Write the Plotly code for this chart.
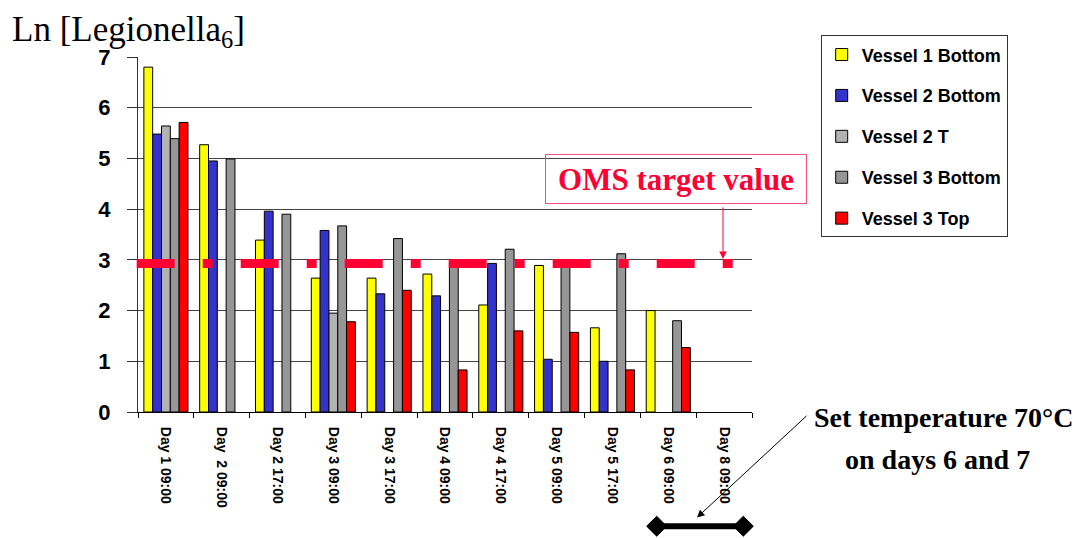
import plotly.graph_objects as go

categories = ["Day 1 09:00", "Day  2 09:00", "Day 2 17:00", "Day 3 09:00", "Day 3 17:00",
              "Day 4 09:00", "Day 4 17:00", "Day 5 09:00", "Day 5 17:00", "Day 6 09:00", "Day 8 09:00"]
vessel1_bottom = [6.80, 5.27, 3.39, 2.64, 2.64, 2.72, 2.11, 2.89, 1.66, 2.00, None]
vessel2_bottom = [5.48, 4.95, 3.96, 3.58, 2.33, 2.29, 2.93, 1.04, 1.00, None, None]
vessel2_t = [5.64, None, None, 1.95, None, None, None, None, None, None, None]
vessel3_bottom = [5.39, 4.99, 3.90, 3.67, 3.42, 2.95, 3.21, 2.90, 3.12, 1.80, None]
vessel3_top = [5.71, None, None, 1.78, 2.40, 0.83, 1.60, 1.57, 0.83, 1.27, None]
oms_target = 2.93

series = [
    ("Vessel 1 Bottom", vessel1_bottom, "#FFFF00"),
    ("Vessel 2 Bottom", vessel2_bottom, "#3333CC"),
    ("Vessel 2 T", vessel2_t, "#B2B2B2"),
    ("Vessel 3 Bottom", vessel3_bottom, "#969696"),
    ("Vessel 3 Top", vessel3_top, "#FF0000"),
]

# plot area in page pixels (page has an 8px body margin)
OFF = 8
L, R, T, B = 138, 752, 56.7, 412.3
W, H = 1080 - OFF, 538 - OFF
def px(x):
    return (x - L) / (R - L)
def py(y):
    return (B - y) / (B - T)

SANS = "Liberation Sans, Arial, sans-serif"
SERIF = "Liberation Serif, Times New Roman, serif"
CRIMSON = "#FF0033"

fig = go.Figure()
for i, (name, vals, col) in enumerate(series):
    fig.add_trace(go.Bar(x=categories, y=vals, name=name, legendgroup=str(i),
                         marker=dict(color=col, line=dict(color="#000000", width=1))))

fig.update_layout(
    width=W, height=H,
    margin=dict(l=L - OFF, r=W - (R - OFF), t=T - OFF, b=H - (B - OFF), pad=0),
    paper_bgcolor="white", plot_bgcolor="white",
    barmode="group", bargap=0.21, bargroupgap=0,
    font=dict(family=SANS, color="black"),
    showlegend=True,
    legend=dict(x=px(820.7), y=py(35), xanchor="left", yanchor="top",
                bgcolor="white", bordercolor="#333333", borderwidth=1,
                font=dict(family=SANS, size=18, weight="bold", color="black"),
                tracegroupgap=14.5, traceorder="grouped",
                entrywidth=160, entrywidthmode="pixels"),
    xaxis=dict(type="category", tickson="boundaries", ticks="outside", ticklen=5,
               tickcolor="black", showline=True, linecolor="black", linewidth=1,
               tickangle=90, tickfont=dict(family=SANS, size=14, weight="bold"),
               ticklabelstandoff=11, showgrid=False),
    yaxis=dict(range=[0, 7], dtick=1, ticks="outside", ticklen=10, tickcolor="#333333",
               showline=True, linecolor="#333333", linewidth=1,
               showgrid=True, gridcolor="#444444", gridwidth=1, zeroline=False,
               tickfont=dict(family=SANS, size=22, weight="bold"),
               ticklabelstandoff=12),
)

# OMS target dashed line
fig.add_shape(type="line", xref="paper", yref="y", x0=px(136.7), x1=px(733), y0=oms_target, y1=oms_target,
              line=dict(color=CRIMSON, width=9, dash="38px,28px,10px,28px"), layer="above")

# OMS label box
fig.add_annotation(x=px(676), y=py(179), xref="paper", yref="paper", text="OMS target value",
                   showarrow=False, font=dict(family=SERIF, size=31, weight="bold", color=CRIMSON),
                   bordercolor="#F0507A", borderwidth=1, borderpad=1, width=258, height=46,
                   xanchor="center", yanchor="middle")
# arrow from box to line
fig.add_annotation(x=px(723), y=py(259), xref="paper", yref="paper", text="", showarrow=True,
                   ax=0, ay=-53, axref="pixel", ayref="pixel", arrowcolor=CRIMSON, arrowwidth=1,
                   arrowhead=2, arrowsize=1.5)

# Title
fig.add_annotation(x=px(10), y=py(31), xref="paper", yref="paper", text="Ln [Legionella<sub>6</sub>]",
                   showarrow=False, xanchor="left", yanchor="middle",
                   font=dict(family=SERIF, size=35, color="black"))

# Set temperature note
fig.add_annotation(x=px(943.5), y=py(418), xref="paper", yref="paper", text="Set temperature 70°C",
                   showarrow=False, xanchor="center", yanchor="middle",
                   font=dict(family=SERIF, size=28, weight="bold", color="black"))
fig.add_annotation(x=px(937), y=py(460), xref="paper", yref="paper", text="on days 6 and 7",
                   showarrow=False, xanchor="center", yanchor="middle",
                   font=dict(family=SERIF, size=28, weight="bold", color="black"))
fig.add_annotation(x=px(697), y=py(518), xref="paper", yref="paper", text="", showarrow=True,
                   ax=111, ay=-103, axref="pixel", ayref="pixel", arrowcolor="black", arrowwidth=1,
                   arrowhead=2, arrowsize=1.5)

# bar with diamond ends
yc = 526.7
fig.add_shape(type="line", xref="paper", yref="paper", x0=px(656.7), x1=px(743.3), y0=py(yc), y1=py(yc),
              line=dict(color="black", width=6))
for cx in (656.7, 743.3):
    path = "M {a},{b} L {c},{d} L {e},{f} L {g},{h} Z".format(
        a=px(cx - 10), b=py(yc), c=px(cx), d=py(yc - 10), e=px(cx + 10), f=py(yc), g=px(cx), h=py(yc + 10))
    fig.add_shape(type="path", xref="paper", yref="paper", path=path,
                  fillcolor="black", line=dict(color="black", width=1))

fig.write_html("out.html")
